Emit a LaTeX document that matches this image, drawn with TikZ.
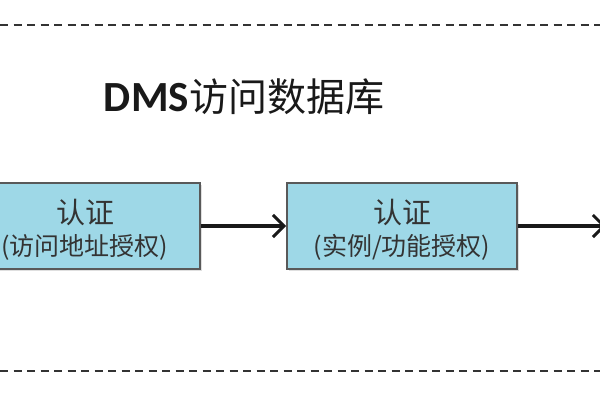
\documentclass[tikz,border=0pt]{standalone}
\usepackage{fontspec}
\setmainfont{Noto Sans CJK SC}
\newfontfamily\latinfont{Carlito}
\usetikzlibrary{arrows.meta,shadows}

\begin{document}
\begin{tikzpicture}[
    x=1pt, y=-1pt,
    box/.style={rectangle, draw=black!65, line width=1.8pt, fill=boxfill,
        minimum width=230pt, minimum height=86pt, align=center, text=black!80,
        drop shadow={opacity=0.25, shadow xshift=2pt, shadow yshift=-2pt}},
    label/.style={align=center, text=black!80},
    arrow/.style={line width=3.4pt, draw=black!90, -{Straight Barb[length=11pt, width=22pt, line width=3pt]}},
    border/.style={dashed, dash pattern=on 8pt off 5.5pt, line width=2pt, draw=black!80}
]
\definecolor{boxfill}{HTML}{9ED8E7}
\useasboundingbox (0,0) rectangle (600,400);

% Dashed frame lines
\coordinate (top_l) at (0,25);
\coordinate (top_r) at (600,25);
\coordinate (bot_l) at (0,371);
\coordinate (bot_r) at (600,371);
\draw[border] (top_l) -- (top_r);
\draw[border] (bot_l) -- (bot_r);

% Title
\node[text=black!90] (title) at (244,97) {{\latinfont\bfseries\fontsize{43}{48}\selectfont DMS}{\fontsize{39}{48}\selectfont 访问数据库}};

% Authentication steps
\node[box] (auth_addr) at (85,226) {};
\node[box] (auth_inst) at (402,226) {};
\node[label, font=\fontsize{29}{33}\selectfont] (addr_top) at (85,212) {认证};
\node[label, font=\fontsize{25}{29}\selectfont] (addr_bot) at (85,247) {(访问地址授权)};
\node[label, font=\fontsize{29}{33}\selectfont] (inst_top) at (402,212) {认证};
\node[label, font=\fontsize{25}{29}\selectfont] (inst_bot) at (402,247) {(实例/功能授权)};
\coordinate (next) at (606,226);

% Connections
\draw[arrow] (auth_addr) -- (auth_inst);
\draw[arrow] (auth_inst) -- (next);

\end{tikzpicture}
\end{document}
